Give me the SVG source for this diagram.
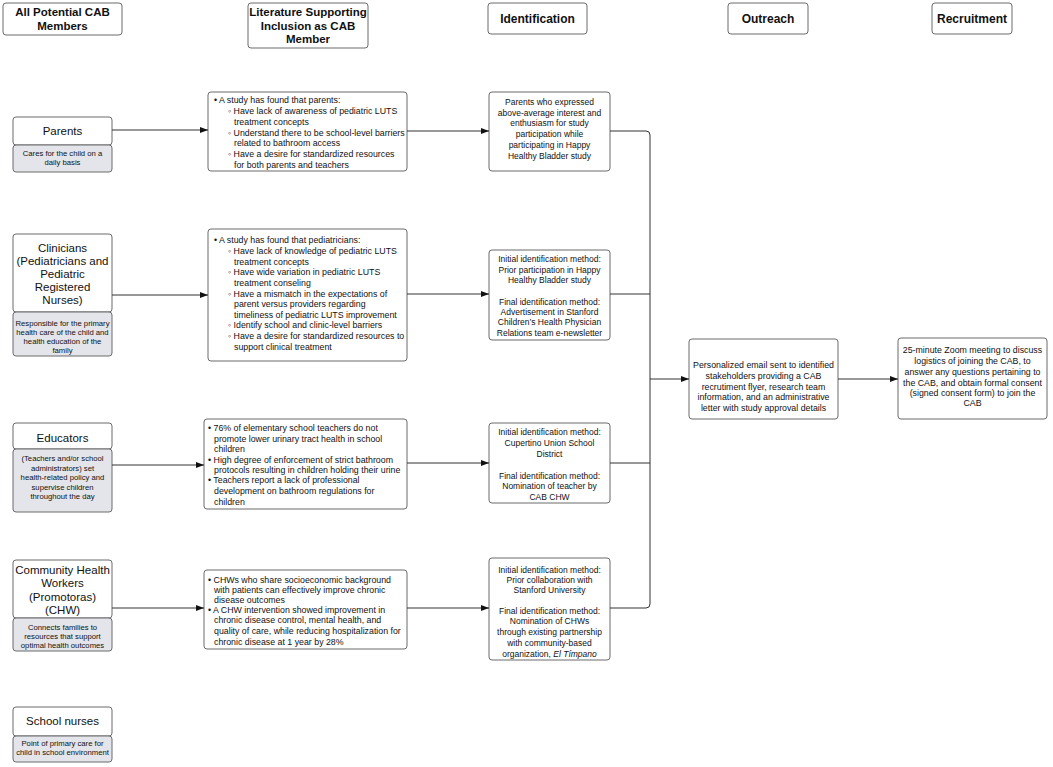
<svg xmlns="http://www.w3.org/2000/svg" width="1053" height="767" viewBox="0 0 1053 767">
<style>
text{font-family:"Liberation Sans",Arial,sans-serif;fill:#111}
.box{fill:#fff;stroke:#6b6b6b;stroke-width:1}
.sub{fill:#e3e5ea;stroke:#6b6b6b;stroke-width:1}
.hd{font-weight:bold;font-size:11.5px;text-anchor:middle}
.ttl{font-size:11.5px;text-anchor:middle}
.st{font-size:7.7px;text-anchor:middle}
.lit{font-size:8.8px}
.idt{font-size:8.5px;text-anchor:middle}
.out{font-size:8.8px;text-anchor:middle}
.con{fill:none;stroke:#333;stroke-width:1}
</style>
<defs>
<marker id="arr" markerWidth="8" markerHeight="6" refX="8" refY="3" orient="auto" markerUnits="userSpaceOnUse">
<path d="M0,0 L8,3 L0,6 z" fill="#111"/>
</marker>
</defs>
<rect width="1053" height="767" fill="#fff"/>

<g id="header-members"><rect class="box" x="3" y="3" width="119" height="32" rx="3"/>
<text class="hd" x="62.5" y="16">All Potential CAB</text><text class="hd" x="62.5" y="30">Members</text></g>
<g id="header-literature"><rect class="box" x="248" y="3" width="120" height="45" rx="3"/>
<text class="hd" x="308" y="16">Literature Supporting</text><text class="hd" x="308" y="30">Inclusion as CAB</text><text class="hd" x="308" y="43">Member</text></g>
<g id="header-identification"><rect class="box" x="488" y="3" width="99" height="31" rx="3"/>
<text class="hd" x="537.5" y="23" style="font-size:12px">Identification</text></g>
<g id="header-outreach"><rect class="box" x="728" y="3" width="80" height="31" rx="3"/>
<text class="hd" x="768" y="23" style="font-size:12px">Outreach</text></g>
<g id="header-recruitment"><rect class="box" x="932" y="3" width="80" height="31" rx="3"/>
<text class="hd" x="972" y="23" style="font-size:12px">Recruitment</text></g>

<g id="parents"><rect class="box" x="13" y="117" width="99" height="28" rx="3"/>
<text class="ttl" x="62.5" y="135">Parents</text>
<rect class="sub" x="13" y="145" width="99" height="27" rx="3"/>
<text class="st" x="62.5" y="156">Cares for the child on a</text><text class="st" x="62.5" y="165">daily basis</text></g>

<g id="clinicians"><rect class="box" x="13" y="234" width="99" height="78" rx="3"/>
<text class="ttl" x="62.5" y="252">Clinicians</text><text class="ttl" x="62.5" y="265">(Pediatricians and</text><text class="ttl" x="62.5" y="278">Pediatric</text><text class="ttl" x="62.5" y="291">Registered</text><text class="ttl" x="62.5" y="304">Nurses)</text>
<rect class="sub" x="13" y="312" width="99" height="44" rx="3"/>
<text class="st" x="62.5" y="326">Responsible for the primary</text><text class="st" x="62.5" y="335">health care of the child and</text><text class="st" x="62.5" y="344">health education of the</text><text class="st" x="62.5" y="353">family</text></g>

<g id="educators"><rect class="box" x="13" y="423" width="99" height="26" rx="3"/>
<text class="ttl" x="62.5" y="442">Educators</text>
<rect class="sub" x="13" y="449" width="99" height="63" rx="3"/>
<text class="st" x="62.5" y="461">(Teachers and/or school</text><text class="st" x="62.5" y="470.5">administrators) set</text><text class="st" x="62.5" y="480">health-related policy and</text><text class="st" x="62.5" y="489.5">supervise children</text><text class="st" x="62.5" y="499">throughout the day</text></g>

<g id="chw"><rect class="box" x="13" y="560" width="99" height="58" rx="3"/>
<text class="ttl" x="62.5" y="574">Community Health</text><text class="ttl" x="62.5" y="587">Workers</text><text class="ttl" x="62.5" y="601">(Promotoras)</text><text class="ttl" x="62.5" y="614">(CHW)</text>
<rect class="sub" x="13" y="618" width="99" height="33" rx="3"/>
<text class="st" x="62.5" y="630">Connects families to</text><text class="st" x="62.5" y="639">resources that support</text><text class="st" x="62.5" y="648">optimal health outcomes</text></g>

<g id="school-nurses"><rect class="box" x="13" y="707" width="99" height="29" rx="3"/>
<text class="ttl" x="62.5" y="725">School nurses</text>
<rect class="sub" x="13" y="736" width="99" height="26" rx="3"/>
<text class="st" x="62.5" y="746">Point of primary care for</text><text class="st" x="62.5" y="755">child in school environment</text></g>

<g id="lit-parents"><rect class="box" x="208" y="92" width="199" height="79" rx="3"/>
<text class="lit" x="214" y="103">• A study has found that parents:</text>
<text class="lit" x="228" y="114">◦ Have lack of awareness of pediatric LUTS</text>
<text class="lit" x="234" y="125">treatment concepts</text>
<text class="lit" x="228" y="136">◦ Understand there to be school-level barriers</text>
<text class="lit" x="234" y="146">related to bathroom access</text>
<text class="lit" x="228" y="157">◦ Have a desire for standardized resources</text>
<text class="lit" x="234" y="168">for both parents and teachers</text></g>

<g id="lit-clinicians"><rect class="box" x="208" y="229" width="199" height="132" rx="3"/>
<text class="lit" x="214" y="243">• A study has found that pediatricians:</text>
<text class="lit" x="228" y="254">◦ Have lack of knowledge of pediatric LUTS</text>
<text class="lit" x="234" y="265">treatment concepts</text>
<text class="lit" x="228" y="275">◦ Have wide variation in pediatric LUTS</text>
<text class="lit" x="234" y="286">treatment conseling</text>
<text class="lit" x="228" y="297">◦ Have a mismatch in the expectations of</text>
<text class="lit" x="234" y="307">parent versus providers regarding</text>
<text class="lit" x="234" y="318">timeliness of pediatric LUTS improvement</text>
<text class="lit" x="228" y="328">◦ Identify school and clinic-level barriers</text>
<text class="lit" x="228" y="339">◦ Have a desire for standardized resources to</text>
<text class="lit" x="234" y="350">support clinical treatment</text></g>

<g id="lit-educators"><rect class="box" x="204" y="419" width="203" height="90" rx="3"/>
<text class="lit" x="208" y="431">• 76% of elementary school teachers do not</text>
<text class="lit" x="214" y="442">promote lower urinary tract health in school</text>
<text class="lit" x="214" y="452">children</text>
<text class="lit" x="208" y="463">• High degree of enforcement of strict bathroom</text>
<text class="lit" x="214" y="473">protocols resulting in children holding their urine</text>
<text class="lit" x="208" y="483">• Teachers report a lack of professional</text>
<text class="lit" x="214" y="494">development on bathroom regulations for</text>
<text class="lit" x="214" y="505">children</text></g>

<g id="lit-chw"><rect class="box" x="204" y="570" width="203" height="79" rx="3"/>
<text class="lit" x="208" y="583">• CHWs who share socioeconomic background</text>
<text class="lit" x="214" y="593">with patients can effectively improve chronic</text>
<text class="lit" x="214" y="603">disease outcomes</text>
<text class="lit" x="208" y="613">• A CHW intervention showed improvement in</text>
<text class="lit" x="214" y="623">chronic disease control, mental health, and</text>
<text class="lit" x="214" y="634">quality of care, while reducing hospitalization for</text>
<text class="lit" x="214" y="645">chronic disease at 1 year by 28%</text></g>

<g id="id-parents"><rect class="box" x="489" y="92" width="121" height="79" rx="3"/>
<text class="idt" x="549.5" y="105">Parents who expressed</text>
<text class="idt" x="549.5" y="116">above-average interest and</text>
<text class="idt" x="549.5" y="126">enthusiasm for study</text>
<text class="idt" x="549.5" y="137">participation while</text>
<text class="idt" x="549.5" y="148">participating in Happy</text>
<text class="idt" x="549.5" y="159">Healthy Bladder study</text></g>

<g id="id-clinicians"><rect class="box" x="489" y="250" width="121" height="90" rx="3"/>
<text class="idt" x="549.5" y="262">Initial identification method:</text>
<text class="idt" x="549.5" y="273">Prior participation in Happy</text>
<text class="idt" x="549.5" y="283">Healthy Bladder study</text>
<text class="idt" x="549.5" y="305">Final identification method:</text>
<text class="idt" x="549.5" y="315">Advertisement in Stanford</text>
<text class="idt" x="549.5" y="325">Children’s Health Physician</text>
<text class="idt" x="549.5" y="336">Relations team e-newsletter</text></g>

<g id="id-educators"><rect class="box" x="489" y="423" width="121" height="80" rx="3"/>
<text class="idt" x="549.5" y="435">Initial identification method:</text>
<text class="idt" x="549.5" y="446">Cupertino Union School</text>
<text class="idt" x="549.5" y="457">District</text>
<text class="idt" x="549.5" y="479">Final identification method:</text>
<text class="idt" x="549.5" y="489">Nomination of teacher by</text>
<text class="idt" x="549.5" y="500">CAB CHW</text></g>

<g id="id-chw"><rect class="box" x="489" y="558" width="121" height="102" rx="3"/>
<text class="idt" x="549.5" y="573">Initial identification method:</text>
<text class="idt" x="549.5" y="583">Prior collaboration with</text>
<text class="idt" x="549.5" y="593">Stanford University</text>
<text class="idt" x="549.5" y="614">Final identification method:</text>
<text class="idt" x="549.5" y="624">Nomination of CHWs</text>
<text class="idt" x="549.5" y="635">through existing partnership</text>
<text class="idt" x="549.5" y="646">with community-based</text>
<text class="idt" x="549.5" y="657">organization, <tspan font-style="italic">El Tímpano</tspan></text></g>

<g id="outreach"><rect class="box" x="689" y="339" width="149" height="80" rx="3"/>
<text class="out" x="763.5" y="368">Personalized email sent to identified</text>
<text class="out" x="763.5" y="379">stakeholders providing a CAB</text>
<text class="out" x="763.5" y="390">recrutiment flyer, research team</text>
<text class="out" x="763.5" y="400">information, and an administrative</text>
<text class="out" x="763.5" y="411">letter with study approval details</text></g>

<g id="recruitment"><rect class="box" x="898" y="338" width="149" height="81" rx="3"/>
<text class="out" x="972.5" y="353">25-minute Zoom meeting to discuss</text>
<text class="out" x="972.5" y="364">logistics of joining the CAB, to</text>
<text class="out" x="972.5" y="375">answer any questions pertaining to</text>
<text class="out" x="972.5" y="386">the CAB, and obtain formal consent</text>
<text class="out" x="972.5" y="396">(signed consent form) to join the</text>
<text class="out" x="972.5" y="406">CAB</text></g>

<g id="connectors">
<path class="con" d="M112,130 H208" marker-end="url(#arr)"/>
<path class="con" d="M407,131 H489" marker-end="url(#arr)"/>
<path class="con" d="M112,295 H208" marker-end="url(#arr)"/>
<path class="con" d="M407,294 H489" marker-end="url(#arr)"/>
<path class="con" d="M112,465 H204" marker-end="url(#arr)"/>
<path class="con" d="M407,463 H489" marker-end="url(#arr)"/>
<path class="con" d="M112,608 H204" marker-end="url(#arr)"/>
<path class="con" d="M407,608 H489" marker-end="url(#arr)"/>
<path class="con" d="M610,131 H646 Q650,131 650,135 V604 Q650,608 646,608 H610"/>
<path class="con" d="M610,294 H650"/>
<path class="con" d="M610,463 H650"/>
<path class="con" d="M650,379 H689" marker-end="url(#arr)"/>
<path class="con" d="M838,379 H898" marker-end="url(#arr)"/>
</g>
</svg>
